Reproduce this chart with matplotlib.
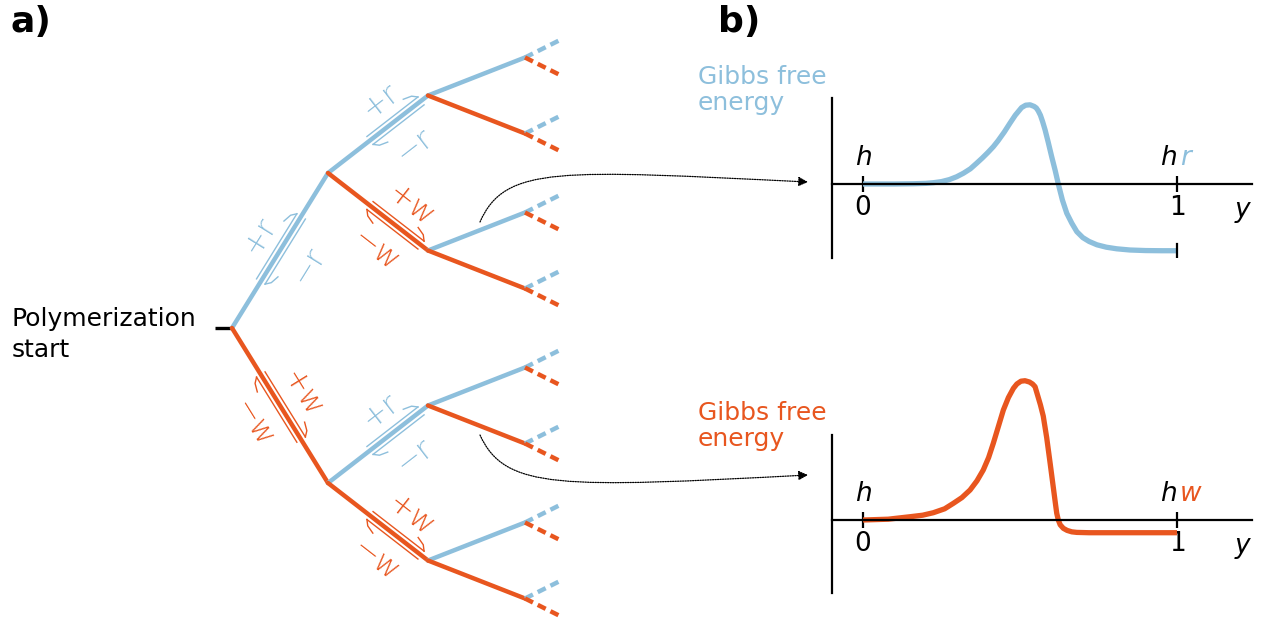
import numpy as np
import matplotlib
matplotlib.use("Agg")
import matplotlib.pyplot as plt
from matplotlib.path import Path
from matplotlib.patches import FancyArrowPatch

BLUE = '#8dbfdc'
ORANGE = '#e8561f'

# tree layout: horizontal / vertical step per level (pixels), halving vertically
root = (232, 328)
level_dx = [96, 100, 97]
level_dy = [155, 77.5, 38]
stub_dx, stub_dy = 38, 19
# which levels carry the equilibrium harpoons and where along the edge
harpoon_span = {0: (0.30, 0.72), 1: (0.42, 0.93)}
edge_labels = {'r': ('+r', '\u2212r'), 'w': ('+w', '\u2212w')}

# Gibbs free energy profiles along reaction coordinate y (0..1)
y_r = [0.0, 0.10, 0.16, 0.20, 0.224, 0.25, 0.275, 0.298, 0.32, 0.342, 0.362, 0.38,
       0.398, 0.415, 0.43, 0.45, 0.468, 0.485, 0.505, 0.518, 0.532, 0.545, 0.552,
       0.558, 0.565, 0.572, 0.58, 0.59, 0.601, 0.612, 0.622, 0.635, 0.649, 0.665,
       0.681, 0.70, 0.72, 0.745, 0.775, 0.808, 0.85, 0.90, 0.95, 1.0]
g_r = [0.0, 0.0, 0.003, 0.008, 0.016, 0.03, 0.055, 0.09, 0.135, 0.19, 0.26, 0.325,
       0.395, 0.466, 0.54, 0.65, 0.76, 0.86, 0.955, 0.985, 0.99, 0.97, 0.95,
       0.915, 0.86, 0.78, 0.675, 0.52, 0.34, 0.17, 0.0, -0.2, -0.366, -0.49,
       -0.596, -0.67, -0.718, -0.76, -0.79, -0.81, -0.825, -0.832, -0.834, -0.834]
y_w = [0.0, 0.08, 0.15, 0.19, 0.224, 0.26, 0.288, 0.315, 0.341, 0.363, 0.383, 0.40,
       0.415, 0.432, 0.447, 0.463, 0.479, 0.49, 0.503, 0.516, 0.53, 0.54, 0.548,
       0.556, 0.565, 0.574, 0.585, 0.596, 0.607, 0.613, 0.617, 0.622, 0.628, 0.638,
       0.65, 0.665, 0.681, 0.72, 1.0]
g_w = [0.0, 0.01, 0.041, 0.06, 0.091, 0.14, 0.209, 0.28, 0.375, 0.49, 0.625, 0.78,
       0.959, 1.18, 1.375, 1.53, 1.646, 1.70, 1.735, 1.741, 1.725, 1.70, 1.666,
       1.56, 1.44, 1.30, 1.03, 0.709, 0.38, 0.20, 0.084, 0.0, -0.06, -0.104,
       -0.13, -0.148, -0.155, -0.159, -0.159]

fig = plt.figure(figsize=(12.7, 6.25), dpi=100)
ax = fig.add_axes([0, 0, 1, 1])
ax.set_xlim(0, 1270)
ax.set_ylim(625, 0)
ax.axis('off')

LW = 3.2


def harpoons(p0, p1, t0, t1, color, labels):
    p0 = np.array(p0, float); p1 = np.array(p1, float)
    u = (p1 - p0) / np.hypot(*(p1 - p0))
    n = np.array([u[1], -u[0]])  # points to upper side
    d, b = 5.0, 13.0
    a = p0 + t0 * (p1 - p0); e = p0 + t1 * (p1 - p0)
    # forward harpoon on upper side, curved barb at tip
    s, t = a + d * n, e + d * n
    ax.plot([s[0], t[0]], [s[1], t[1]], color=color, lw=1.0)
    barb = [t, t - 0.35 * b * u + 0.35 * b * n, t - 1.0 * b * u + 0.55 * b * n]
    ax.plot(*zip(*barb), color=color, lw=1.0, solid_joinstyle='round')
    # backward harpoon on lower side, curved barb at tail
    s, t = a - d * n, e - d * n
    ax.plot([s[0], t[0]], [s[1], t[1]], color=color, lw=1.0)
    barb = [s, s + 0.35 * b * u - 0.35 * b * n, s + 1.0 * b * u - 0.55 * b * n]
    ax.plot(*zip(*barb), color=color, lw=1.0, solid_joinstyle='round')
    c = p0 + 0.5 * (t0 + t1) * (p1 - p0)
    ang = np.degrees(np.arctan2(-u[1], u[0]))
    for lab, off in zip(labels, (25, -32)):
        q = c + off * n
        ax.text(q[0], q[1], lab, color=color, fontsize=22, rotation=ang,
                rotation_mode='anchor', ha='center', va='center', fontweight='light')


def grow(node, level):
    if level == len(level_dx):
        for sgn, col in ((-1, BLUE), (1, ORANGE)):
            ax.plot([node[0], node[0] + stub_dx], [node[1], node[1] + sgn * stub_dy],
                    color=col, lw=LW, dashes=(2.0, 1.2), solid_capstyle='butt')
        return
    for sgn, col, sp in ((-1, BLUE, 'r'), (1, ORANGE, 'w')):
        child = (node[0] + level_dx[level], node[1] + sgn * level_dy[level])
        ax.plot([node[0], child[0]], [node[1], child[1]], color=col, lw=LW,
                solid_capstyle='round')
        if level in harpoon_span:
            t0, t1 = harpoon_span[level]
            harpoons(node, child, t0, t1, col, edge_labels[sp])
        grow(child, level + 1)


ax.plot([root[0] - 17, root[0]], [root[1], root[1]], color='black', lw=2.4,
        solid_capstyle='butt')
grow(root, 0)

ax.text(12, 326, 'Polymerization', fontsize=18, va='baseline')
ax.text(12, 357, 'start', fontsize=18, va='baseline')
ax.text(10, 32, 'a)', fontsize=26, fontweight='bold', va='baseline')
ax.text(718, 32, 'b)', fontsize=26, fontweight='bold', va='baseline')

# dotted connectors to the energy profiles
for verts in ([(480, 222), (505, 165), (560, 170), (808, 182)],
              [(480, 435), (505, 490), (560, 488), (808, 475)]):
    path = Path(verts, [Path.MOVETO, Path.CURVE4, Path.CURVE4, Path.CURVE4])
    ax.add_patch(FancyArrowPatch(path=path, arrowstyle='-|>', mutation_scale=14,
                                 color='black', lw=0.9, linestyle=(0, (1, 1))))


def profile(top, bottom, ys, gs, col, sp, zero):
    W, H = 1270, 625
    x0, x1 = 832, 1252
    a = fig.add_axes([x0 / W, 1 - bottom / H, (x1 - x0) / W, (bottom - top) / H])
    a.set_xlim(-(863 - x0) / 314, (x1 - 863) / 314)
    a.set_ylim(-(bottom - zero) / 80, (zero - top) / 80)
    a.patch.set_alpha(0)
    for s in ('top', 'right'):
        a.spines[s].set_visible(False)
    a.spines['left'].set_linewidth(1.6)
    a.spines['bottom'].set_linewidth(1.6)
    a.spines['bottom'].set_position(('data', 0))
    a.set_yticks([])
    a.set_xticks([0, 1])
    a.set_xticklabels(['0', '1'], fontsize=19)
    a.tick_params(axis='x', direction='inout', length=12, width=1.6, pad=2)
    a.plot(ys, gs, color=col, lw=3.8, clip_on=False, solid_capstyle='butt',
           solid_joinstyle='round')
    if gs[-1] < -0.3:
        a.plot([1, 1], [gs[-1] - 0.09, gs[-1] + 0.09], color='black', lw=1.6)
    kw = dict(textcoords='offset points', va='baseline', fontsize=19, style='italic')
    a.annotate('h', (0, 0), xytext=(0, 14), ha='center', **kw)
    a.annotate('h', (1, 0), xytext=(0, 14), ha='right', **kw)
    a.annotate(sp, (1, 0), xytext=(2, 14), ha='left', color=col, **kw)
    a.annotate('y', (1.21, 0), xytext=(0, -24), ha='center', **kw)
    return a


profile(98, 258, y_r, g_r, BLUE, 'r', 184)
profile(435, 593, y_w, g_w, ORANGE, 'w', 520)

ax.text(698, 84, 'Gibbs free', color=BLUE, fontsize=18, va='baseline')
ax.text(698, 110, 'energy', color=BLUE, fontsize=18, va='baseline')
ax.text(698, 420, 'Gibbs free', color=ORANGE, fontsize=18, va='baseline')
ax.text(698, 446, 'energy', color=ORANGE, fontsize=18, va='baseline')

fig.savefig('out.png', dpi=100)
